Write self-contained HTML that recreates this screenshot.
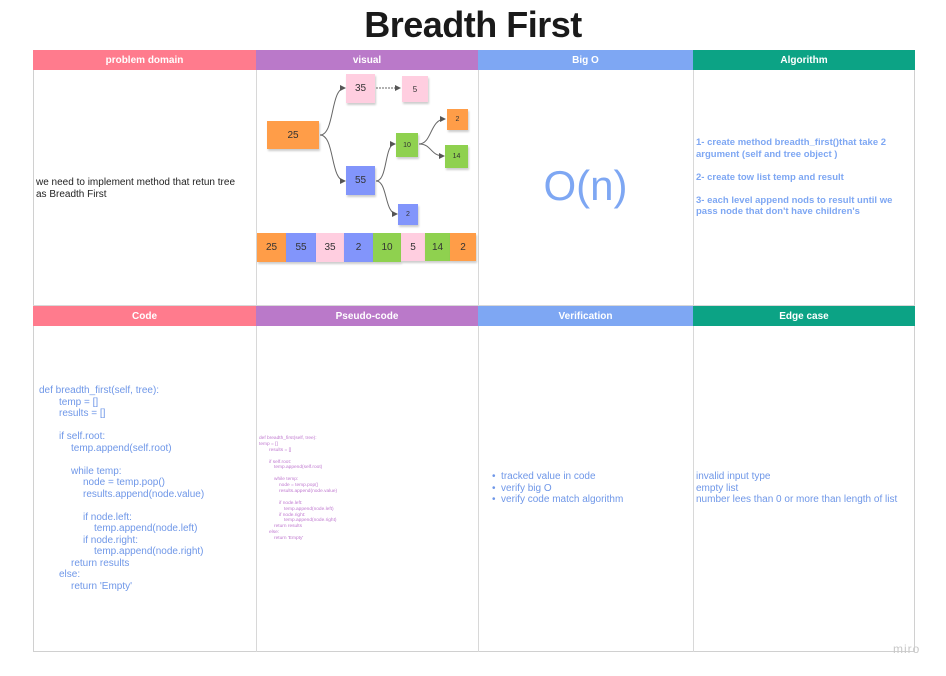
<!DOCTYPE html>
<html><head><meta charset="utf-8"><style>
*{margin:0;padding:0;box-sizing:border-box}
body{width:946px;height:676px;background:#fff;position:relative;font-family:"Liberation Sans",sans-serif;overflow:hidden}
.a{position:absolute}
.h{position:absolute;height:20px;color:#fff;font-weight:bold;font-size:10px;text-align:center;line-height:21px}
.vl{position:absolute;width:1px;background:#d8d8d8}
.s{position:absolute;display:flex;align-items:center;justify-content:center;font-size:10px;color:#333;box-shadow:1px 2px 2px rgba(0,0,0,.2)}
.code{position:absolute;color:#6f97e8;font-size:10px;line-height:11.5px;white-space:pre}
.blk{position:absolute;color:#6f97e8;font-size:10px;line-height:11.5px;white-space:nowrap}
.blk div{height:11.5px}
.i1{margin-left:20px}.i2{margin-left:32px}.i3{margin-left:44px}.i4{margin-left:55px}
.p div{height:5.9px}
.p .i1{margin-left:10px}.p .i2{margin-left:15px}.p .i3{margin-left:20px}.p .i4{margin-left:25px}
</style></head><body>
<div class="a" style="left:0;width:946px;top:4px;text-align:center;font-size:36px;font-weight:bold;color:#1a1a1a;letter-spacing:-0.5px">Breadth First</div>

<div class="a" style="left:33px;top:50px;width:882px;height:602px;border:1px solid #d0d0d0"></div>
<div class="vl" style="left:256px;top:50px;height:602px"></div>
<div class="vl" style="left:478px;top:50px;height:602px"></div>
<div class="vl" style="left:693px;top:50px;height:602px"></div>
<div class="a" style="left:33px;top:305px;width:882px;height:1px;background:#d8d8d8"></div>

<div class="h" style="left:33px;top:50px;width:223px;background:#ff7b8d">problem domain</div>
<div class="h" style="left:256px;top:50px;width:222px;background:#ba79c9">visual</div>
<div class="h" style="left:478px;top:50px;width:215px;background:#7ea7f3">Big O</div>
<div class="h" style="left:693px;top:50px;width:222px;background:#0ca385">Algorithm</div>
<div class="h" style="left:33px;top:306px;width:223px;background:#ff7b8d">Code</div>
<div class="h" style="left:256px;top:306px;width:222px;background:#ba79c9">Pseudo-code</div>
<div class="h" style="left:478px;top:306px;width:215px;background:#7ea7f3">Verification</div>
<div class="h" style="left:693px;top:306px;width:222px;background:#0ca385">Edge case</div>

<div class="a" style="left:36px;top:177px;width:210px;font-size:10px;line-height:11.5px;color:#222">we need to implement method that retun tree as Breadth First</div>

<svg class="a" style="left:0;top:0" width="946" height="676">
<defs><marker id="ar" markerWidth="6" markerHeight="6" refX="5" refY="3" orient="auto"><path d="M0,0L6,3L0,6z" fill="#555"/></marker></defs>
<g fill="none" stroke="#666" stroke-width="1">
<path d="M320,135 C335,135 330,88 345,88" marker-end="url(#ar)"/>
<path d="M320,135 C335,135 330,181 345,181" marker-end="url(#ar)"/>
<path d="M376,88 L400,88" stroke-dasharray="2,1" marker-end="url(#ar)"/>
<path d="M376,181 C388,181 384,144 395,144" marker-end="url(#ar)"/>
<path d="M376,181 C388,181 384,214 397,214" marker-end="url(#ar)"/>
<path d="M419,144 C432,144 430,119 445,119" marker-end="url(#ar)"/>
<path d="M419,144 C432,144 430,156 444,156" marker-end="url(#ar)"/>
</g></svg>

<div class="s" style="left:267px;top:121px;width:52px;height:28px;background:#ff9d48">25</div>
<div class="s" style="left:346px;top:74px;width:29px;height:29px;background:#ffcee0">35</div>
<div class="s" style="left:402px;top:76px;width:26px;height:26px;background:#ffcee0;font-size:8px">5</div>
<div class="s" style="left:396px;top:133px;width:22px;height:24px;background:#8fd14f;font-size:7px">10</div>
<div class="s" style="left:447px;top:109px;width:21px;height:21px;background:#ff9d48;font-size:7px">2</div>
<div class="s" style="left:445px;top:145px;width:23px;height:23px;background:#8fd14f;font-size:7px">14</div>
<div class="s" style="left:346px;top:166px;width:29px;height:29px;background:#8295fb">55</div>
<div class="s" style="left:398px;top:204px;width:20px;height:21px;background:#8295fb;font-size:7px">2</div>

<div class="s" style="left:257px;top:233px;width:29px;height:29px;background:#ff9d48">25</div>
<div class="s" style="left:286px;top:233px;width:30px;height:29px;background:#8295fb">55</div>
<div class="s" style="left:316px;top:233px;width:28px;height:29px;background:#ffcee0">35</div>
<div class="s" style="left:344px;top:233px;width:29px;height:29px;background:#8295fb">2</div>
<div class="s" style="left:373px;top:233px;width:28px;height:29px;background:#8fd14f">10</div>
<div class="s" style="left:401px;top:233px;width:24px;height:28px;background:#ffcee0">5</div>
<div class="s" style="left:425px;top:233px;width:25px;height:28px;background:#8fd14f">14</div>
<div class="s" style="left:450px;top:233px;width:26px;height:28px;background:#ff9d48">2</div>

<div class="a" style="left:478px;top:162px;width:215px;text-align:center;font-size:42px;color:#7ea7f3">O(n)</div>

<div class="a" style="left:696px;top:137px;width:218px;font-size:9.5px;font-weight:bold;line-height:11.5px;color:#7ea7f3">1- create method breadth_first()that take 2 argument (self and tree object )<br><br>2- create tow list temp and result<br><br>3- each level append nods to result until we pass node that don't have children's</div>

<div class="blk" style="left:39px;top:385px"><div>def breadth_first(self, tree):</div><div class="i1">temp = []</div><div class="i1">results = []</div><div></div><div class="i1">if self.root:</div><div class="i2">temp.append(self.root)</div><div></div><div class="i2">while temp:</div><div class="i3">node = temp.pop()</div><div class="i3">results.append(node.value)</div><div></div><div class="i3">if node.left:</div><div class="i4">temp.append(node.left)</div><div class="i3">if node.right:</div><div class="i4">temp.append(node.right)</div><div class="i2">return results</div><div class="i1">else:</div><div class="i2">return 'Empty'</div></div>

<div class="blk p" style="left:259px;top:436px;font-size:4.8px;line-height:5.9px;color:#c07ad0"><div>def breadth_first(self, tree):</div><div>temp = []</div><div class="i1">results = []</div><div></div><div class="i1">if self.root:</div><div class="i2">temp.append(self.root)</div><div></div><div class="i2">while temp:</div><div class="i3">node = temp.pop()</div><div class="i3">results.append(node.value)</div><div></div><div class="i3">if node.left:</div><div class="i4">temp.append(node.left)</div><div class="i3">if node.right:</div><div class="i4">temp.append(node.right)</div><div class="i2">return results</div><div class="i1">else:</div><div class="i2">return 'Empty'</div></div>

<div class="code" style="left:492px;top:471px;line-height:11.5px">•  tracked value in code
•  verify big O
•  verify code match algorithm</div>
<div class="code" style="left:696px;top:471px;line-height:11.5px">invalid input type
empty list
number lees than 0 or more than length of list</div>

<div class="a" style="left:893px;top:642px;font-size:12px;color:#c8c8c8;letter-spacing:1px">miro</div>
</body></html>
